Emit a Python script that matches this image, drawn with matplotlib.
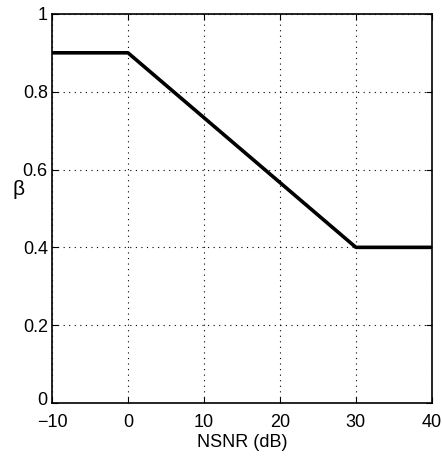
import matplotlib.pyplot as plt
import matplotlib.transforms as mtransforms
import numpy as np

plt.rcParams['font.family'] = ['Liberation Sans', 'DejaVu Sans']

nsnr_db = [-10, 0, 30, 40]
beta = [0.9, 0.9, 0.4, 0.4]
x_ticks = [-10, 0, 10, 20, 30, 40]
x_tick_labels = ['\u221210', '0', '10', '20', '30', '40']
y_ticks = [0, 0.2, 0.4, 0.6, 0.8, 1]
y_tick_labels = ['0', '0.2', '0.4', '0.6', '0.8', '1']

fig = plt.figure(figsize=(4.42, 4.63), dpi=100)
ax = fig.add_axes([0.1176, 0.1296, 0.8594, 0.8404])

ax.plot(nsnr_db, beta, color='black', linewidth=2.6)

ax.set_xlim(-10, 40)
ax.set_ylim(0, 1)
ax.set_xticks(x_ticks)
ax.set_xticklabels(x_tick_labels)
ax.set_yticks(y_ticks)
ax.set_yticklabels(y_tick_labels)
ax.grid(True, linestyle=(0, (1, 4)), color='black', linewidth=0.8)
ax.tick_params(direction='in', length=4, labelsize=13, top=True, right=True)
ax.tick_params(axis='x', pad=8)
ax.tick_params(axis='y', pad=3)
for s in ax.spines.values():
    s.set_linewidth(1.2)

# nudge the y "0" up a little so it sits just above the "-10"
lbl0 = ax.get_yticklabels()[0]
lbl0.set_transform(lbl0.get_transform() +
                   mtransforms.ScaledTranslation(0, 3 / 72, fig.dpi_scale_trans))

ax.set_xlabel("NSNR (dB)", fontsize=13, labelpad=2)
ax.set_ylabel("\u03b2", fontsize=15, rotation=0, va='center', ha='center')
ax.yaxis.set_label_coords(-0.088, 0.548)

fig.savefig("out.png", dpi=100)
